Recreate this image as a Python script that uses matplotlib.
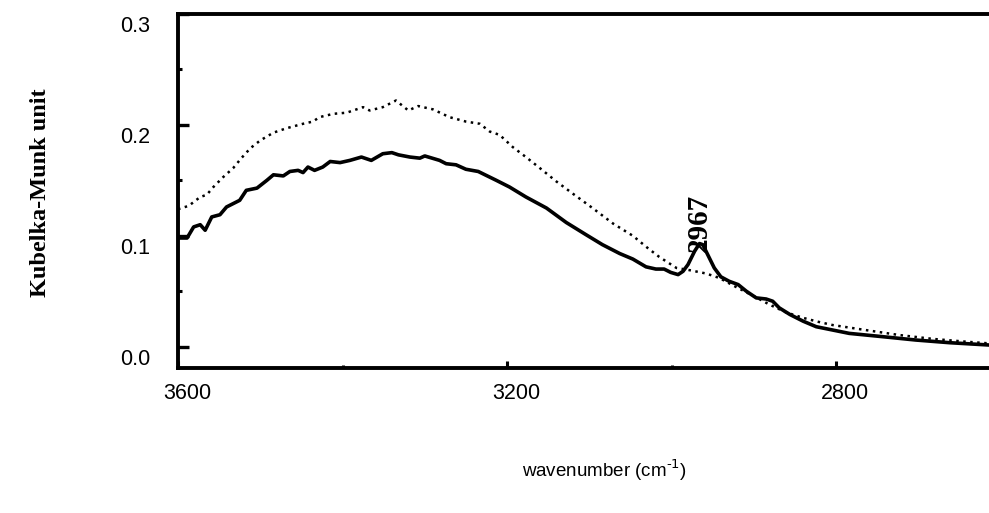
import matplotlib
matplotlib.use("Agg")
import matplotlib.pyplot as plt
import matplotlib.transforms as mtransforms
import numpy as np

# Diffuse-reflectance spectra (Kubelka-Munk units) vs wavenumber
wn_solid = [3600, 3589, 3581, 3573, 3567, 3559, 3549, 3541, 3525, 3517, 3504,
            3492, 3484, 3472, 3464, 3454, 3448, 3442, 3434, 3424, 3415, 3403,
            3391, 3377, 3365, 3351, 3340, 3332, 3318, 3306, 3300, 3282, 3274,
            3262, 3250, 3235, 3213, 3197, 3177, 3152, 3128, 3104, 3084, 3063,
            3047, 3031, 3019, 3009, 3001, 2992, 2986, 2980, 2972, 2966, 2962,
            2956, 2948, 2940, 2930, 2919, 2909, 2897, 2885, 2877, 2869, 2856,
            2840, 2824, 2784, 2743, 2703, 2662, 2614]
km_solid = [0.098, 0.098, 0.108, 0.110, 0.105, 0.117, 0.119, 0.126, 0.132,
            0.141, 0.143, 0.150, 0.155, 0.154, 0.158, 0.159, 0.157, 0.162,
            0.159, 0.162, 0.167, 0.166, 0.168, 0.171, 0.168, 0.174, 0.175,
            0.173, 0.171, 0.170, 0.172, 0.168, 0.165, 0.164, 0.160, 0.158,
            0.150, 0.144, 0.135, 0.125, 0.112, 0.101, 0.092, 0.084, 0.079,
            0.072, 0.070, 0.070, 0.067, 0.065, 0.068, 0.074, 0.086, 0.093,
            0.092, 0.083, 0.071, 0.063, 0.059, 0.056, 0.050, 0.044, 0.043,
            0.041, 0.035, 0.029, 0.023, 0.018, 0.012, 0.009, 0.006, 0.0036,
            0.0015]

wn_dot = [3600, 3587, 3573, 3565, 3557, 3545, 3533, 3523, 3512, 3500, 3484,
          3468, 3448, 3436, 3428, 3411, 3395, 3375, 3367, 3351, 3335, 3320,
          3308, 3290, 3270, 3250, 3233, 3221, 3209, 3193, 3177, 3160, 3140,
          3120, 3096, 3071, 3047, 3029, 3015, 2994, 2978, 2958, 2942, 2922,
          2901, 2881, 2861, 2840, 2822, 2804, 2764, 2723, 2682, 2642, 2614]
km_dot = [0.124, 0.127, 0.135, 0.137, 0.144, 0.153, 0.161, 0.170, 0.179,
          0.186, 0.193, 0.197, 0.201, 0.203, 0.207, 0.210, 0.211, 0.216,
          0.213, 0.216, 0.222, 0.213, 0.217, 0.214, 0.207, 0.203, 0.201,
          0.194, 0.191, 0.180, 0.171, 0.161, 0.149, 0.138, 0.125, 0.111,
          0.100, 0.089, 0.081, 0.071, 0.069, 0.066, 0.062, 0.054, 0.046,
          0.038, 0.031, 0.026, 0.0225, 0.0195, 0.015, 0.0105, 0.007, 0.0045,
          0.003]

peak_label = "2967"
peak_wn = 2966
peak_km = 0.093

x_major = [3600, 3200, 2800]
x_minor = [3400, 3000]
y_major = [0.0, 0.1, 0.2, 0.3]
y_minor = [0.05, 0.15, 0.25]

fig = plt.figure(figsize=(9.89, 5.13), dpi=100)
ax = fig.add_axes([0.180, 0.2827, 0.820, 0.6900])

ax.plot(wn_dot, km_dot, color="black", lw=1.8, linestyle=(0, (1, 1.8)))
ax.plot(wn_solid, km_solid, color="black", lw=2.6, solid_joinstyle="round")

ax.set_xlim(3600, 2614)
ax.set_ylim(-0.0192, 0.2997)

ax.set_xticks(x_major)
ax.set_xticks(x_minor, minor=True)
ax.set_yticks(y_major)
ax.set_yticks(y_minor, minor=True)
ax.set_xticklabels([str(v) for v in x_major])
ax.set_yticklabels([f"{v:.1f}" for v in y_major])

for s in ["left", "top", "bottom"]:
    ax.spines[s].set_linewidth(2.8)
ax.spines["right"].set_visible(False)

ax.tick_params(axis="y", which="major", direction="in", length=8, width=2.4,
               labelsize=15.5, pad=20)
ax.tick_params(axis="y", which="minor", direction="in", length=3, width=2.2)
ax.tick_params(axis="x", which="major", direction="in", length=5, width=2.2,
               labelsize=15.5, pad=11)
ax.tick_params(axis="x", which="minor", direction="in", length=2, width=2.2)
for lab in ax.get_xticklabels() + ax.get_yticklabels():
    lab.set_fontfamily("Liberation Sans")

# nudge tick labels the way the original plotting package placed them
dx = mtransforms.ScaledTranslation(9 / 100, 0, fig.dpi_scale_trans)
dy = mtransforms.ScaledTranslation(0, -10 / 100, fig.dpi_scale_trans)
for lab in ax.get_xticklabels():
    lab.set_transform(lab.get_transform() + dx)
for lab in ax.get_yticklabels():
    lab.set_transform(lab.get_transform() + dy)

ax.text(peak_wn, peak_km - 0.008, peak_label, rotation=90, ha="center",
        va="bottom", fontsize=21, fontweight="bold",
        family="Liberation Serif")

fig.text(0.041, 0.624, "Kubelka-Munk unit", rotation=90, ha="center",
         va="center", fontsize=17.5, fontweight="bold",
         family="Liberation Serif")
fig.text(0.611, 0.083, r"wavenumber (cm$^{\text{-1}}$)", ha="center",
         va="center", fontsize=13.5, family="Liberation Sans")

fig.savefig("out.png", dpi=100)
